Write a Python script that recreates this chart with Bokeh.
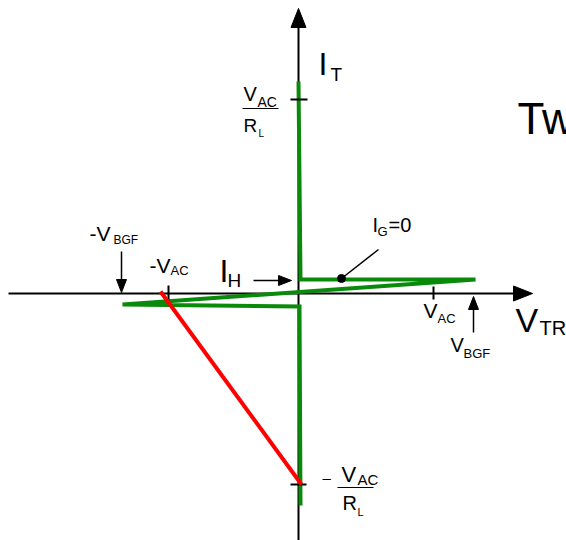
from bokeh.plotting import figure
from bokeh.models import Range1d
from bokeh.core.properties import value
from bokeh.embed import file_html
from bokeh.resources import INLINE

# Diagram units: origin where the V_TR and I_T axes cross, 1 unit = 1 px.
v_axis = [-290, 234]          # horizontal axis start, arrow tip
i_axis = [-247, 285]          # vertical axis start, arrow tip

# TRIAC characteristic (I_G = 0): on-state, holding, breakover, negative branch
curve_v = [0, 2, 177, -176, 1, 2]
curve_i = [212, 14, 14, -11, -13, -212]

# Load line from -V_AC to -V_AC/R_L
load_v = [-138, 3]
load_i = [2, -191]

# Marked values on the axes
v_ticks = [-130, 135]         # -V_AC, V_AC
i_ticks = [194, -191]         # V_AC/R_L, -V_AC/R_L

# Pointer arrows: (x0, y0, x1 tip, y1 tip)
pointers = [
    (-177, 42, -177, 1),      # -V_BGF
    (-45, 13, -7, 13),        # I_H
    (175, -39, 175, -3),      # V_BGF
]

# Holding point with its I_G=0 leader
hold_pt = (43, 15)
hold_leader = (80, 44)

FONT = value("Liberation Sans")
GREEN = "#0a8a0a"
BASELINE_SHIFT = 0.38   # em, lifts the text box so its baseline sits on y

p = figure(width=566, height=540, x_range=Range1d(-298, 268),
           y_range=Range1d(-247, 293), output_backend="svg",
           toolbar_location=None, min_border=0)
p.axis.visible = False
p.grid.visible = False
p.outline_line_color = None
p.background_fill_color = "white"
p.border_fill_color = "white"


def head(tx, ty, dx, dy, length, half):
    # triangle with tip at (tx, ty) pointing along unit (dx, dy)
    bx, by = tx - dx * length, ty - dy * length
    nx, ny = -dy, dx
    return [tx, bx + nx * half, bx - nx * half], [ty, by + ny * half, by - ny * half]


# axes
p.line([v_axis[0], v_axis[1] - 18], [0, 0], line_color="black", line_width=2)
p.line([0, 0], [i_axis[0], i_axis[1] - 18], line_color="black", line_width=2)
hx, hy = head(v_axis[1], 0, 1, 0, 19, 7.5)
vx, vy = head(0, i_axis[1], 0, 1, 19, 7.5)
p.patches([hx, vx], [hy, vy], fill_color="black", line_color="black")

# characteristic
p.line(curve_v, curve_i, line_color=GREEN, line_width=4, line_join="miter")

# ticks
p.segment(x0=v_ticks, y0=[8, 7], x1=v_ticks, y1=[-7, -6], line_color="black", line_width=2)
p.segment(x0=[-8, -8], y0=i_ticks, x1=[9, 8], y1=i_ticks, line_color="black", line_width=2)

# load line
p.line(load_v, load_i, line_color="red", line_width=4)

# pointer arrows
heads_x, heads_y = [], []
for x0, y0, x1, y1 in pointers:
    L = ((x1 - x0) ** 2 + (y1 - y0) ** 2) ** 0.5
    dx, dy = (x1 - x0) / L, (y1 - y0) / L
    p.line([x0, x1 - dx * 10], [y0, y1 - dy * 10], line_color="black", line_width=1.5)
    ax, ay = head(x1, y1, dx, dy, 13, 5)
    heads_x.append(ax)
    heads_y.append(ay)
p.patches(heads_x, heads_y, fill_color="black", line_color="black")

# holding point
p.line([hold_leader[0], hold_pt[0]], [hold_leader[1], hold_pt[1]], line_color="black", line_width=1.5)
p.scatter([hold_pt[0]], [hold_pt[1]], size=8, fill_color="black", line_color="black")

# fraction bars
p.segment(x0=[-56, 39], y0=[185, -194], x1=[-20, 75], y1=[185, -194], line_color="black", line_width=1.2)

# labels: (text, x, baseline y, size)
labels = [
    ("I", 20, 217, 32), ("T", 32, 212, 19),
    ("Tw", 219, 158, 44),
    ("V", 217, -39, 34), ("TR", 241, -42, 20),
    ("V", -55, 192, 20), ("AC", -41, 186, 14),
    ("R", -55, 161, 19), ("L", -40, 156, 10),
    ("\u2013", 24, -190, 15),
    ("V", 43, -189, 22), ("AC", 59, -192, 15),
    ("R", 44, -217, 20), ("L", 59, -223, 11),
    ("-V", -209, 52, 21), ("BGF", -185, 49, 12),
    ("-V", -149, 20, 21), ("AC", -128, 18, 13),
    ("I", -79, 10, 32), ("H", -71, 6, 19),
    ("I", 74, 61, 20), ("G", 79, 57, 13), ("=0", 90, 61, 20),
    ("V", 125, -25, 21), ("AC", 139, -30, 13),
    ("V", 152, -59, 20), ("BGF", 165, -65, 13),
]
for t, x, y, s in labels:
    p.text(x=[x], y=[y + BASELINE_SHIFT * s], text=[t], text_font=FONT,
           text_font_size=f"{s}px", text_baseline="alphabetic",
           text_align="left", text_color="black")

open("out.html", "w").write(file_html(p, INLINE))
